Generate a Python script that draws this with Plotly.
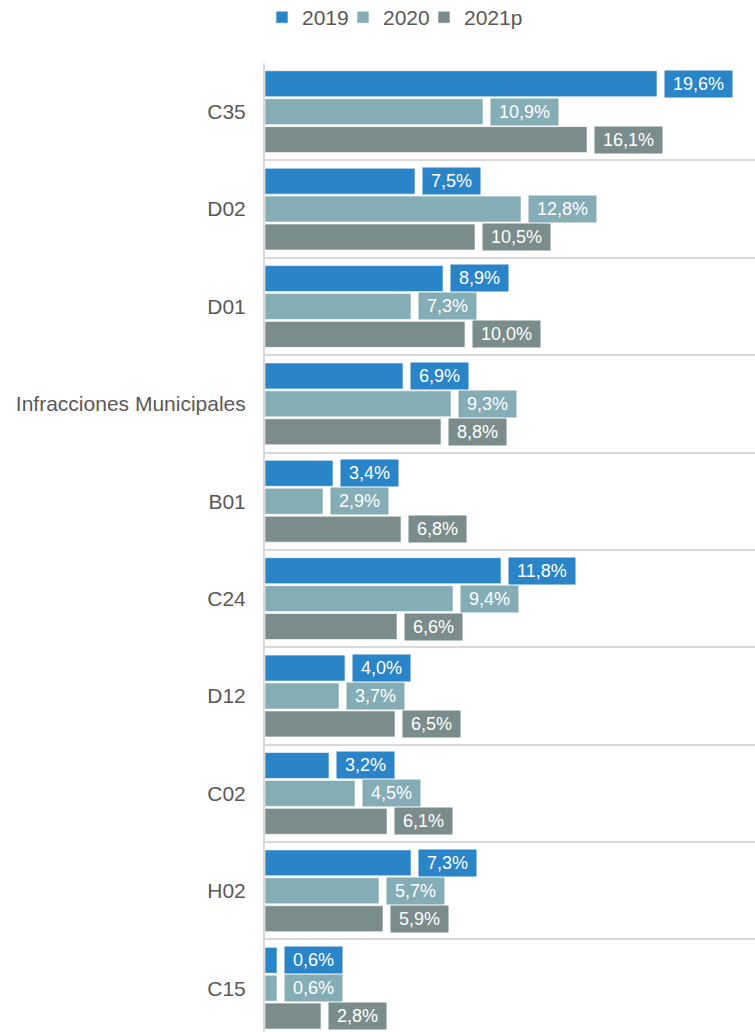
import plotly.graph_objects as go

categories = ["C35", "D02", "D01", "Infracciones Municipales", "B01",
              "C24", "D12", "C02", "H02", "C15"]
series_names = ["2019", "2020", "2021p"]
v2019 = [19.6, 7.5, 8.9, 6.9, 3.4, 11.8, 4.0, 3.2, 7.3, 0.6]
v2020 = [10.9, 12.8, 7.3, 9.3, 2.9, 9.4, 3.7, 4.5, 5.7, 0.6]
v2021 = [16.1, 10.5, 10.0, 8.8, 6.8, 6.6, 6.5, 6.1, 5.9, 2.8]
colors = ["#2A84C8", "#85ADB6", "#7B8C8D"]

values = [v2019, v2020, v2021]
yshifts = [28, 0, -28]
legend_widths = [36, 36, None]

fig = go.Figure()
for name, vals, col, lw in zip(series_names, values, colors, legend_widths):
    fig.add_trace(go.Bar(
        y=categories, x=vals, name=name, orientation="h",
        marker=dict(color=col, line=dict(color="rgba(255,255,255,0.6)", width=1)),
        legendwidth=lw,
    ))

def fmt(v):
    return "\u00a0" + f"{v:.1f}".replace(".", ",") + "%\u00a0"

for vals, col, ys in zip(values, colors, yshifts):
    for cat, v in zip(categories, vals):
        fig.add_annotation(
            x=v, y=cat, xref="x", yref="y", text=fmt(v),
            showarrow=False, xanchor="left", yanchor="middle",
            xshift=7, yshift=ys, bgcolor=col, borderpad=3,
            font=dict(family="Liberation Sans, Arial", size=18, color="white"),
        )

fig.update_layout(
    width=755, height=1032,
    margin=dict(l=265, r=0, t=63, b=0),
    paper_bgcolor="white", plot_bgcolor="white",
    barmode="group", bargap=0.14, bargroupgap=0.07,
    font=dict(family="Liberation Sans, Arial", color="#595959", size=21),
    legend=dict(orientation="h", xref="container", yref="container",
                x=262 / 755, y=0.983, xanchor="left", yanchor="middle",
                font=dict(size=21, color="#595959"), traceorder="normal"),
    showlegend=True,
)
fig.update_xaxes(range=[0, 24.5], showticklabels=False, showgrid=False,
                 zeroline=False, showline=False)
fig.update_yaxes(range=[9.45, -0.5], tickson="boundaries", showgrid=True,
                 gridcolor="#D9D9D9", gridwidth=2, showline=True,
                 linecolor="#D9D9D9", linewidth=2, ticks="",
                 ticklabelstandoff=13,
                 tickfont=dict(size=21, color="#595959"))

fig.write_html(
    "out.html",
    config={"displayModeBar": False},
    post_script="document.body.style.margin='0';document.body.style.overflow='hidden';",
)
